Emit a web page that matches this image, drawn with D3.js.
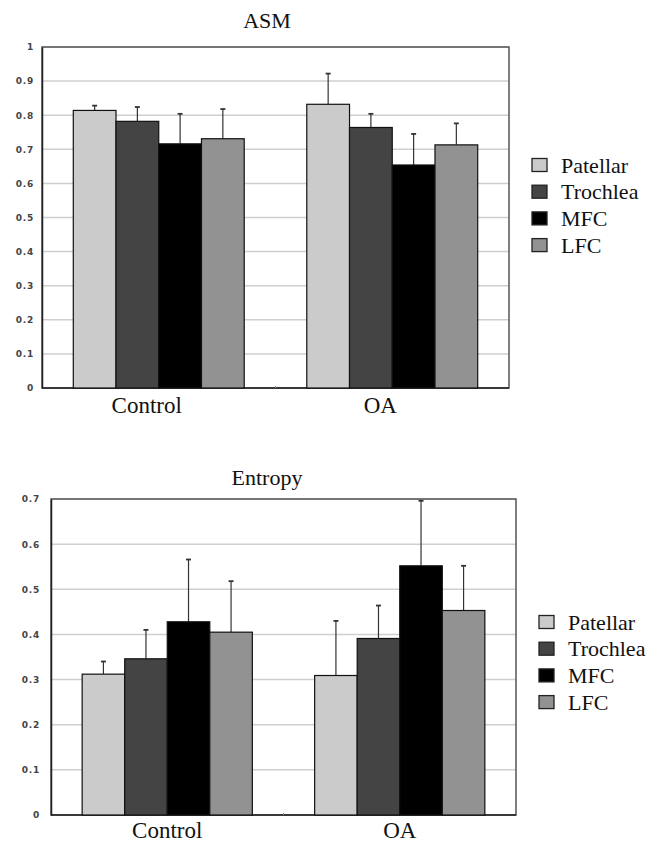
<!DOCTYPE html>
<html>
<head>
<meta charset="utf-8">
<script src="https://cdn.jsdelivr.net/npm/d3@7"></script>
<style>
  body { margin: 0; background: #fff; }
  svg { display: block; }
</style>
</head>
<body>
<div id="chart"></div>
<script>
// data
const groups = ["Control", "OA"];
const series = ["Patellar", "Trochlea", "MFC", "LFC"];
const seriesColors = ["#cbcbcb", "#444444", "#000000", "#929292"];

const asmMean = [[0.814, 0.782, 0.716, 0.731], [0.832, 0.764, 0.654, 0.713]];
const asmSd   = [[0.014, 0.042, 0.088, 0.087], [0.090, 0.040, 0.091, 0.063]];
const asmTicks = [0, 0.1, 0.2, 0.3, 0.4, 0.5, 0.6, 0.7, 0.8, 0.9, 1];

const entropyMean = [[0.312, 0.346, 0.428, 0.405], [0.309, 0.391, 0.552, 0.453]];
const entropySd   = [[0.028, 0.064, 0.138, 0.113], [0.121, 0.073, 0.144, 0.099]];
const entropyTicks = [0, 0.1, 0.2, 0.3, 0.4, 0.5, 0.6, 0.7];

const W = 652, H = 844;
const SERIF = "'Liberation Serif', 'DejaVu Serif', 'Times New Roman', serif";
const SANS = "'DejaVu Sans', sans-serif";

const svg = d3.select("#chart").append("svg")
    .attr("width", W)
    .attr("height", H);

svg.append("rect").attr("width", W).attr("height", H).attr("fill", "#fff");

// draws one panel: frame, grid, bars, error bars, labels, legend
function drawPanel(p) {
    const g = svg.append("g");

    const y = d3.scaleLinear()
        .domain([0, p.ticks[p.ticks.length - 1]])
        .range([p.bottom, p.top]);

    const x0 = d3.scaleBand()
        .domain(groups)
        .range([p.left, p.right])
        .paddingInner(0.268)
        .paddingOuter(0.134);

    const x1 = d3.scaleBand()
        .domain(series)
        .range([0, x0.bandwidth()]);

    // grid lines
    g.append("g")
        .selectAll("line")
        .data(p.ticks.slice(1))
        .join("line")
        .attr("x1", p.left)
        .attr("x2", p.right)
        .attr("y1", d => y(d))
        .attr("y2", d => y(d))
        .attr("stroke", "#cfcfcf")
        .attr("stroke-width", 1.5);

    // frame
    g.append("rect")
        .attr("x", p.left)
        .attr("y", p.top)
        .attr("width", p.right - p.left)
        .attr("height", p.bottom - p.top)
        .attr("fill", "none")
        .attr("stroke", "#555")
        .attr("stroke-width", 1.5);

    // y axis labels
    const yAxis = g.append("g")
        .attr("transform", `translate(${p.left},0)`)
        .call(d3.axisLeft(y).tickValues(p.ticks).tickSize(0).tickPadding(p.labelPad).tickFormat(d3.format("~g")));
    yAxis.select(".domain").attr("stroke", "#222").attr("stroke-width", 1.5);
    yAxis.selectAll("text")
        .style("font-family", SANS)
        .style("font-size", "9px")
        .style("font-weight", "bold")
        .style("letter-spacing", "0.8px")
        .attr("fill", "#444");

    // bottom axis
    g.append("line")
        .attr("x1", p.left).attr("x2", p.right)
        .attr("y1", p.bottom).attr("y2", p.bottom)
        .attr("stroke", "#222").attr("stroke-width", 1.5);

    const rows = groups.map((grp, gi) => series.map((s, si) => ({
        grp, s, si, mean: p.mean[gi][si], sd: p.sd[gi][si]
    }))).flat();

    // error bars (upper half only)
    const err = g.append("g").selectAll("g")
        .data(rows)
        .join("g")
        .attr("stroke", "#333")
        .attr("stroke-width", 1.2);
    err.append("line")
        .attr("x1", d => x0(d.grp) + x1(d.s) + x1.bandwidth() / 2)
        .attr("x2", d => x0(d.grp) + x1(d.s) + x1.bandwidth() / 2)
        .attr("y1", d => y(d.mean))
        .attr("y2", d => y(d.mean + d.sd));
    err.append("line")
        .attr("x1", d => x0(d.grp) + x1(d.s) + x1.bandwidth() / 2 - 2.5)
        .attr("x2", d => x0(d.grp) + x1(d.s) + x1.bandwidth() / 2 + 2.5)
        .attr("y1", d => y(d.mean + d.sd))
        .attr("y2", d => y(d.mean + d.sd))
        .attr("stroke-width", 1.8);

    // bars
    g.append("g").selectAll("rect")
        .data(rows)
        .join("rect")
        .attr("x", d => x0(d.grp) + x1(d.s))
        .attr("y", d => y(d.mean))
        .attr("width", x1.bandwidth())
        .attr("height", d => y(0) - y(d.mean))
        .attr("fill", d => seriesColors[d.si])
        .attr("stroke", "#111")
        .attr("stroke-width", 1.2);

    // small tick between categories
    g.append("line")
        .attr("x1", (p.left + p.right) / 2).attr("x2", (p.left + p.right) / 2)
        .attr("y1", p.bottom).attr("y2", p.bottom - 2)
        .attr("stroke", "#888");

    // category labels
    g.append("g").selectAll("text")
        .data(groups)
        .join("text")
        .style("font-family", SERIF)
        .style("font-size", "23px")
        .attr("fill", "#111")
        .attr("x", d => x0(d) + x0.bandwidth() / 2 + p.catDx)
        .attr("y", p.catY)
        .attr("text-anchor", "middle")
        .text(d => d);

    // title
    g.append("text")
        .style("font-family", SERIF)
        .style("font-size", "22px")
        .attr("fill", "#111")
        .attr("x", p.titleX)
        .attr("y", p.titleY)
        .attr("text-anchor", "middle")
        .text(p.title);

    // legend
    const leg = g.append("g")
        .selectAll("g")
        .data(series)
        .join("g")
        .attr("transform", (d, i) => `translate(${p.legX},${p.legY + i * 26.7})`);
    leg.append("rect")
        .attr("x", 0).attr("y", -6.5)
        .attr("width", 15).attr("height", 13)
        .attr("fill", (d, i) => seriesColors[i])
        .attr("stroke", "#222")
        .attr("stroke-width", 1.3);
    leg.append("text")
        .style("font-family", SERIF)
        .style("font-size", "22px")
        .attr("fill", "#111")
        .attr("x", 29)
        .attr("y", 7.5)
        .text(d => d);
}

drawPanel({
    title: "ASM", titleX: 267, titleY: 28,
    left: 42, right: 509, top: 47, bottom: 388,
    ticks: asmTicks, mean: asmMean, sd: asmSd,
    labelPad: 8, catY: 413, catDx: -12,
    legX: 532, legY: 165
});

drawPanel({
    title: "Entropy", titleX: 267, titleY: 485,
    left: 51, right: 516, top: 499, bottom: 815,
    ticks: entropyTicks, mean: entropyMean, sd: entropySd,
    labelPad: 11, catY: 838, catDx: 0,
    legX: 539, legY: 622
});
</script>
</body>
</html>
